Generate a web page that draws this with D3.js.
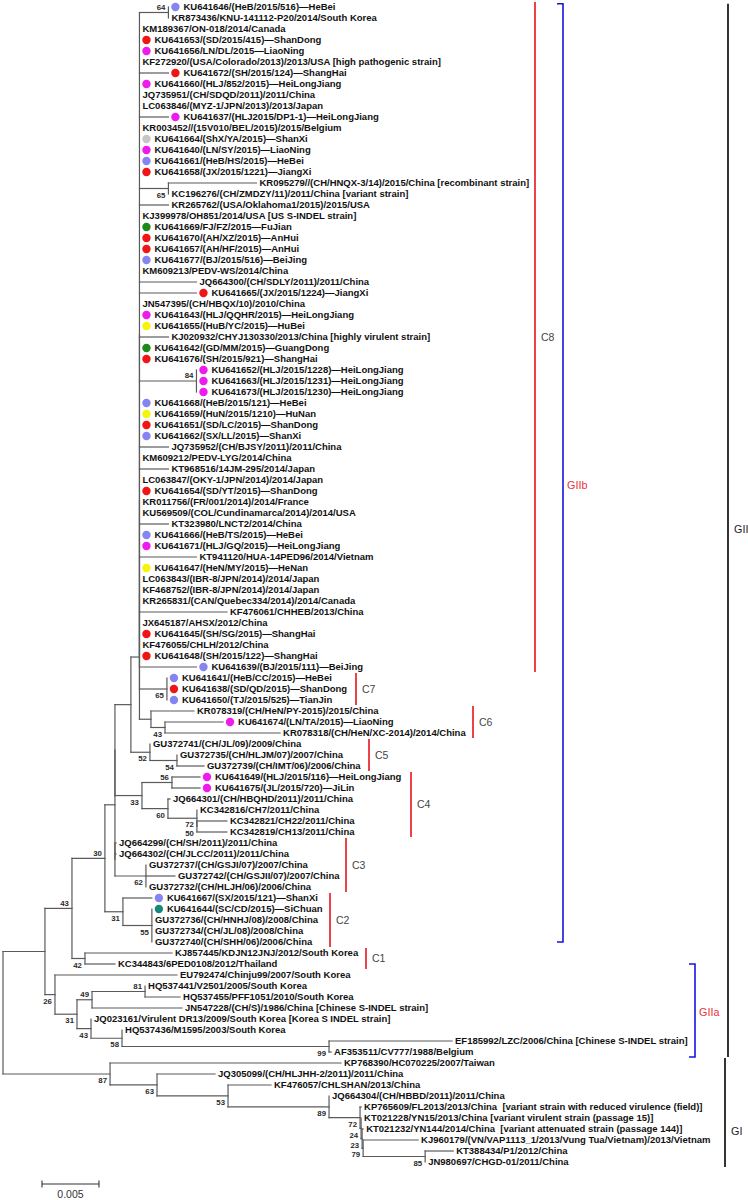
<!DOCTYPE html>
<html><head><meta charset="utf-8">
<script src="https://cdn.jsdelivr.net/npm/d3@7"></script>
<style>body{margin:0;background:#fff}svg{display:block}</style>
</head><body>
<svg id="chart" width="748" height="1200"></svg>
<script>
// ---------- DATA ----------
const leafNames = [
"KU641646/(HeB/2015/516)—HeBei","KR873436/KNU-141112-P20/2014/South Korea","KM189367/ON-018/2014/Canada",
"KU641653/(SD/2015/415)—ShanDong","KU641656/LN/DL/2015—LiaoNing","KF272920/(USA/Colorado/2013)/2013/USA [high pathogenic strain]",
"KU641672/(SH/2015/124)—ShangHai","KU641660/(HLJ/852/2015)—HeiLongJiang","JQ735951/(CH/SDQD/2011)/2011/China",
"LC063846/(MYZ-1/JPN/2013)/2013/Japan","KU641637/(HLJ2015/DP1-1)—HeiLongJiang","KR003452//(15V010/BEL/2015)/2015/Belgium",
"KU641664/(ShX/YA/2015)—ShanXi","KU641640/(LN/SY/2015)—LiaoNing","KU641661/(HeB/HS/2015)—HeBei",
"KU641658/(JX/2015/1221)—JiangXi","KR095279//(CH/HNQX-3/14)/2015/China [recombinant strain]","KC196276/(CH/ZMDZY/11)/2011/China [variant strain]",
"KR265762/(USA/Oklahoma1/2015)/2015/USA","KJ399978/OH851/2014/USA [US S-INDEL strain]","KU641669/FJ/FZ/2015—FuJian",
"KU641670/(AH/XZ/2015)—AnHui","KU641657/(AH/HF/2015)—AnHui","KU641677/(BJ/2015/516)—BeiJing",
"KM609213/PEDV-WS/2014/China","JQ664300/(CH/SDLY/2011)/2011/China","KU641665/(JX/2015/1224)—JiangXi",
"JN547395/(CH/HBQX/10)/2010/China","KU641643/(HLJ/QQHR/2015)—HeiLongJiang","KU641655/(HuB/YC/2015)—HuBei",
"KJ020932/CHYJ130330/2013/China [highly virulent strain]","KU641642/(GD/MM/2015)—GuangDong","KU641676/(SH/2015/921)—ShangHai",
"KU641652/(HLJ/2015/1228)—HeiLongJiang","KU641663/(HLJ/2015/1231)—HeiLongJiang","KU641673/(HLJ/2015/1230)—HeiLongJiang",
"KU641668/(HeB/2015/121)—HeBei","KU641659/(HuN/2015/1210)—HuNan","KU641651/(SD/LC/2015)—ShanDong",
"KU641662/(SX/LL/2015)—ShanXi","JQ735952/(CH/BJSY/2011)/2011/China","KM609212/PEDV-LYG/2014/China",
"KT968516/14JM-295/2014/Japan","LC063847/(OKY-1/JPN/2014)/2014/Japan","KU641654/(SD/YT/2015)—ShanDong",
"KR011756/(FR/001/2014)/2014/France","KU569509/(COL/Cundinamarca/2014)/2014/USA","KT323980/LNCT2/2014/China",
"KU641666/(HeB/TS/2015)—HeBei","KU641671/(HLJ/GQ/2015)—HeiLongJiang","KT941120/HUA-14PED96/2014/Vietnam",
"KU641647/(HeN/MY/2015)—HeNan","LC063843/(IBR-8/JPN/2014)/2014/Japan","KF468752/(IBR-8/JPN/2014)/2014/Japan",
"KR265831/(CAN/Quebec334/2014)/2014/Canada","KF476061/CHHEB/2013/China","JX645187/AHSX/2012/China",
"KU641645/(SH/SG/2015)—ShangHai","KF476055/CHLH/2012/China","KU641648/(SH/2015/122)—ShangHai",
"KU641639/(BJ/2015/111)—BeiJing","KU641641/(HeB/CC/2015)—HeBei","KU641638/(SD/QD/2015)—ShanDong",
"KU641650/(TJ/2015/525)—TianJin","KR078319/(CH/HeN/PY-2015)/2015/China","KU641674/(LN/TA/2015)—LiaoNing",
"KR078318/(CH/HeN/XC-2014)/2014/China","GU372741/(CH/JL/09)/2009/China","GU372735/(CH/HLJM/07)/2007/China",
"GU372739/(CH/IMT/06)/2006/China","KU641649/(HLJ/2015/116)—HeiLongJiang","KU641675/(JL/2015/720)—JiLin",
"JQ664301/(CH/HBQHD/2011)/2011/China","KC342816/CH7/2011/China","KC342821/CH22/2011/China",
"KC342819/CH13/2011/China","JQ664299/(CH/SH/2011)/2011/China","JQ664302/(CH/JLCC/2011)/2011/China",
"GU372737/(CH/GSJI/07)/2007/China","GU372742/(CH/GSJII/07)/2007/China","GU372732/(CH/HLJH/06)/2006/China",
"KU641667/(SX/2015/121)—ShanXi","KU641644/(SC/CD/2015)—SiChuan","GU372736/(CH/HNHJ/08)/2008/China",
"GU372734/(CH/JL/08)/2008/China","GU372740/(CH/SHH/06)/2006/China","KJ857445/KDJN12JNJ/2012/South Korea",
"KC344843/6PED0108/2012/Thailand","EU792474/Chinju99/2007/South Korea","HQ537441/V2501/2005/South Korea",
"HQ537455/PFF1051/2010/South Korea","JN547228/(CH/S)/1986/China [Chinese S-INDEL strain]","JQ023161/Virulent DR13/2009/South Korea [Korea S INDEL strain]",
"HQ537436/M1595/2003/South Korea","EF185992/LZC/2006/China [Chinese S-INDEL strain]","AF353511/CV777/1988/Belgium",
"KP768390/HC070225/2007/Taiwan","JQ305099/(CH/HLJHH-2/2011)/2011/China","KF476057/CHLSHAN/2013/China",
"JQ664304/(CH/HBBD/2011)/2011/China","KP765609/FL2013/2013/China  [variant strain with reduced virulence (field)]","KT021228/YN15/2013/China [variant virulent strain (passage 15)]",
"KT021232/YN144/2014/China  [variant attenuated strain (passage 144)]","KJ960179/(VN/VAP1113_1/2013/Vung Tua/Vietnam)/2013/Vietnam","KT388434/P1/2012/China",
"JN980697/CHGD-01/2011/China"
];

// leaves marked with a coloured dot (index into leafNames) and their colour group
const dotLeaf  = [0,3,4,6,7,10,12,13,14,15,20,21,22,23,26,28,29,31,32,33,34,35,36,37,38,39,44,48,49,51,57,59,60,61,62,63,65,70,71,81,82];
const dotGroup = ["b","r","m","r","m","m","s","m","b","r","g","r","r","b","r","m","y","g","r","m","m","m","b","y","r","b","r","b","m","y","r","r","b","b","r","b","m","m","m","b","t"];
const dotGroupColor = {b:"#8484f2", r:"#f01414", m:"#ee1aee", g:"#1b8a1b", y:"#f4f40c", s:"#c6c6c6", t:"#17897a"};

// topology + branch lengths (substitutions/site); leaf ids refer to leafNames, internal labels are bootstrap values
const treeNewick = `
(((((((((((
(0:0,1:0)64:0.00254,2:0,3:0,4:0,5:0,6:0.00254,7:0,8:0,9:0,10:0.00254,11:0,12:0,13:0,14:0,15:0,
(16:0.00772,17:0)65:0.00254,18:0.00254,19:0,20:0,21:0,22:0,23:0,24:0,25:0.005,26:0.005,27:0,
28:0,29:0,30:0.00254,31:0,32:0,(33:0,34:0,35:0)84:0.005,36:0,37:0,38:0,39:0,40:0.00254,41:0,
42:0.00254,43:0,44:0,45:0,46:0,47:0.00254,48:0,49:0,50:0.005,51:0,52:0,53:0,54:0,55:0.00768,
56:0,57:0,58:0,59:0):0,
60:0.005):0,
(61:0,62:0,63:0)65:0.00241):0,
(64:0.00377,(65:0.00509,66:0.01009)43:0.00123):0.00101):0.00075,
(67:0,(68:0,69:0.00237)54:0.00237)52:0.00167):0.0014,
((70:0.00246,71:0.00246)56:0.00263,(72:0.00018,(73:0,(74:0.00263,75:0.00263)50:0)72:0.00254)60:0.00228)33:0.00237):0,
(76:0.00009,77:0.00009,(78:0,79:0.00254,80:0)62:0.00272):0):0.00088,
(81:0.00254,(82:0,83:0,84:0,85:0)55:0.00254)31:0.00158)30:0.00289,
(86:0.00763,87:0.00263)42:0.00114)43:0.00237,
(88:0.0107,(((89:0,90:0.00307)81:0.00465,91:0.00789)49:0.00132,(92:0,(93:0,(94:0.01079,95:0.00018)99:0.01816)58:0.00272)43:0.00123)31:0.00193)26:0.00088):0.00368,
(96:0.02026,(97:0.00509,(98:0.00377,(99:0,(100:0.00009,(101:0,(102:0.00009,(103:0.00482,(104:0.00246,105:0)85:0.00544)79:0.00009)23:0.00009)24:0.00009)72:0.00272)89:0.00886)53:0.00623)63:0.00412)87:0.00939);
`;
const bootAboveExtra = ["84"];

// clade bars (leaf index ranges)
const cladeNames = ["C8","C7","C6","C5","C4","C3","C2","C1"];
const cladeFirst = [0,61,64,67,70,76,81,86];
const cladeLast  = [60,63,66,69,75,80,85,87];
// genogroup bars (leaf-row ranges and label row)
const groupNames = ["GIIb","GIIa","GII","GI"];
const groupFrom  = [-0.3, 87, -0.3, 95.55];
const groupTo    = [85, 95.45, 95.45, 105.45];
const groupLabelRow = [43.5, 91.4, 47.5, 102.2];
const scaleBarValue = 0.005;

// ---------- LAYOUT ----------
function parseNewick(str){
  str = str.replace(/\s+/g,"");
  let i = 0;
  function node(){
    const n = {children:[]};
    if(str[i]==="("){
      i++; n.children.push(node());
      while(str[i]===","){ i++; n.children.push(node()); }
      i++;
    }
    let name=""; while(i<str.length && !":,);".includes(str[i])) name+=str[i++];
    n.name=name;
    n.length=0;
    if(str[i]===":"){ i++; let l=""; while(i<str.length && !",);".includes(str[i])) l+=str[i++]; n.length=+l; }
    if(!n.children.length) delete n.children;
    return n;
  }
  return node();
}

const svg = d3.select("#chart");
svg.append("rect").attr("width",748).attr("height",1200).attr("fill","#fff");

const x = d3.scaleLinear().domain([0, 0.005]).range([3, 60]);
const y = d3.scaleLinear().domain([0, leafNames.length-1]).range([7, 7 + 11*(leafNames.length-1)]);

const root = d3.hierarchy(parseNewick(treeNewick));
root.eachBefore(d => { d.dist = (d.parent ? d.parent.dist : 0) + d.data.length; d.px = x(d.dist); });
root.eachAfter(d => {
  if(d.children){ d.py = (d.children[0].py + d.children[d.children.length-1].py)/2; }
  else { d.leaf = +d.data.name; d.py = y(d.leaf); }
});

const branchColor = "#5a5a5a";
const gLines = svg.append("g").attr("stroke",branchColor).attr("stroke-width",1.2).attr("fill","none").attr("stroke-linecap","square");
root.descendants().forEach(d => {
  if(d.parent && d.px - d.parent.px > 0.3){
    gLines.append("line").attr("x1",d.parent.px).attr("x2",d.px).attr("y1",d.py).attr("y2",d.py);
  }
  if(d.children){
    gLines.append("line").attr("x1",d.px).attr("x2",d.px)
      .attr("y1",d.children[0].py).attr("y2",d.children[d.children.length-1].py);
  }
});

// bootstrap labels
const gBoot = svg.append("g").attr("font-family","'Liberation Sans',Arial,sans-serif")
  .attr("font-size","7.8px").attr("font-weight","bold").attr("fill","#2a2a2a").attr("text-anchor","end");
root.descendants().forEach(d => {
  if(d.children && d.data.name){
    const above = (d.parent && d.parent.children[0]===d) || bootAboveExtra.includes(d.data.name);
    gBoot.append("text").attr("x",d.px-3).attr("y", above ? d.py-5.5 : d.py+6.5)
      .attr("dy","0.35em").text(d.data.name);
  }
});

// leaves
const dotMap = new Map(dotLeaf.map((l,i)=>[l,dotGroupColor[dotGroup[i]]]));
const gLeaf = svg.append("g").attr("font-family","'Liberation Sans',Arial,sans-serif")
  .attr("font-size","9.5px").attr("font-weight","bold").attr("fill","#111");
root.leaves().forEach(d => {
  const col = dotMap.get(d.leaf);
  if(col){
    svg.append("circle").attr("cx",d.px+7).attr("cy",d.py).attr("r",4.2).attr("fill",col);
  }
  gLeaf.append("text").attr("x", d.px + (col ? 15 : 3)).attr("y", d.py).attr("dy","0.35em")
    .style("white-space","pre").text(leafNames[d.leaf]);
});

// clade bars
const cladeX = [535,356,473,369,411,346,330,366];
cladeNames.forEach((n,i) => {
  const y1 = y(cladeFirst[i]-0.45), y2 = y(cladeLast[i]+0.45);
  svg.append("line").attr("x1",cladeX[i]).attr("x2",cladeX[i]).attr("y1",y1).attr("y2",y2)
    .attr("stroke","#e8131c").attr("stroke-width",1.6);
  svg.append("text").attr("x",cladeX[i]+6).attr("y",(y1+y2)/2).attr("dy","0.35em")
    .attr("font-family","'Liberation Sans',Arial,sans-serif").attr("font-size","10.5px")
    .attr("fill","#444").text(n);
});

// group bars
const groupX = [563,695,728,725];
const groupColor = ["#1414e0","#1414e0","#000","#000"];
const groupTextColor = ["#e8323a","#e8323a","#222","#222"];
groupNames.forEach((n,i) => {
  const y1 = y(groupFrom[i]), y2 = y(groupTo[i]);
  const g = svg.append("g").attr("stroke",groupColor[i]).attr("stroke-width",1.6).attr("fill","none");
  if(i<2){
    g.append("path").attr("d",`M${groupX[i]-6},${y1}H${groupX[i]}V${y2}H${groupX[i]-6}`);
  } else {
    g.append("line").attr("x1",groupX[i]).attr("x2",groupX[i]).attr("y1",y1).attr("y2",y2);
  }
  svg.append("text").attr("x",groupX[i]+(i<2?4:6)).attr("y",y(groupLabelRow[i])).attr("dy","0.35em")
    .attr("font-family","'Liberation Sans',Arial,sans-serif").attr("font-size","10.8px")
    .attr("fill",groupTextColor[i]).text(n);
});

// scale bar
const sbLen = x(scaleBarValue) - x(0);
const sbX = 42, sbY = 1184;
const sb = svg.append("g").attr("stroke","#333").attr("stroke-width",1.1);
sb.append("line").attr("x1",sbX).attr("x2",sbX+sbLen).attr("y1",sbY).attr("y2",sbY);
sb.append("line").attr("x1",sbX).attr("x2",sbX).attr("y1",sbY-3.5).attr("y2",sbY+3.5);
sb.append("line").attr("x1",sbX+sbLen).attr("x2",sbX+sbLen).attr("y1",sbY-3.5).attr("y2",sbY+3.5);
svg.append("text").attr("x",sbX+sbLen/2).attr("y",sbY+10).attr("dy","0.35em").attr("text-anchor","middle")
  .attr("font-family","'Liberation Sans',Arial,sans-serif").attr("font-size","10.5px").attr("fill","#333")
  .text(d3.format(".3f")(scaleBarValue));
</script>
</body></html>
